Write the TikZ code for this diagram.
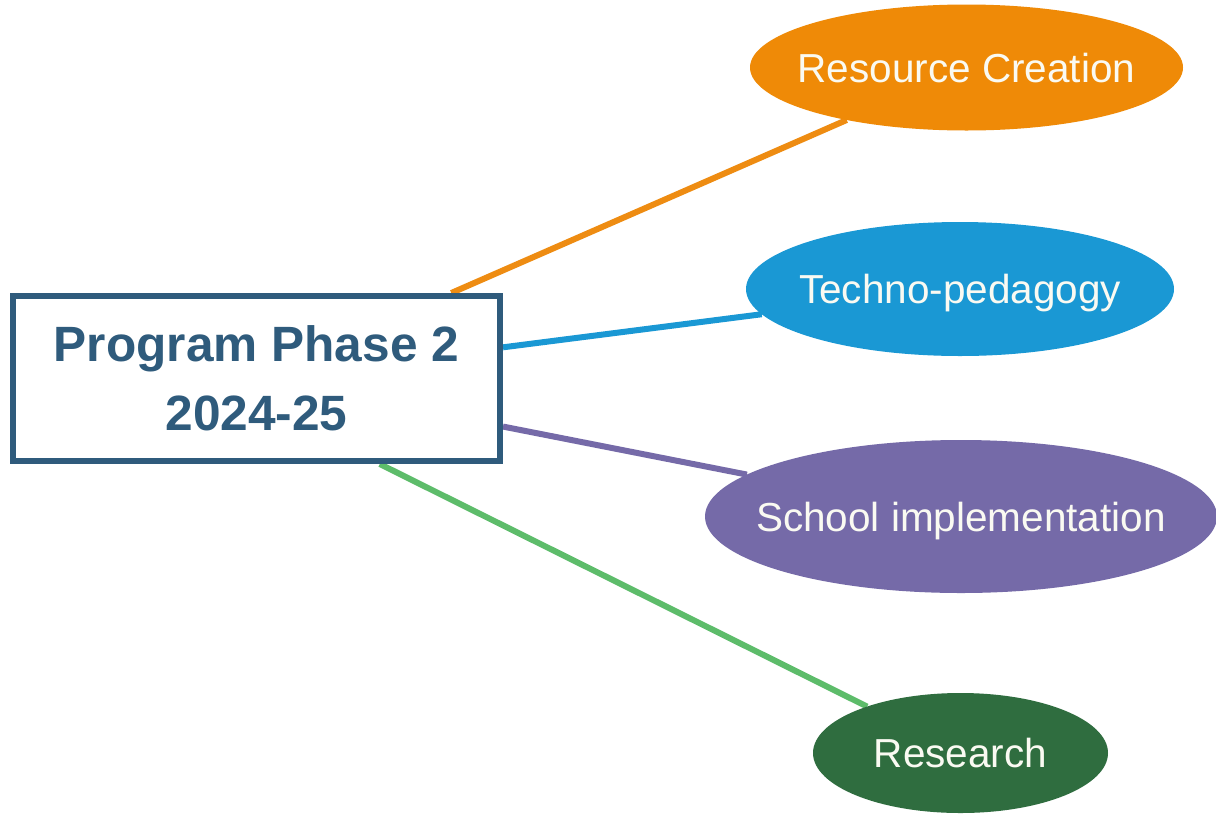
\documentclass[tikz,border=0pt]{standalone}
\usepackage{fontspec}
\setmainfont{Liberation Sans}
\usetikzlibrary{shapes.geometric,calc,backgrounds}
\definecolor{boxc}{HTML}{2F5B7C}
\definecolor{orc}{HTML}{EF8A07}
\definecolor{blc}{HTML}{1A98D4}
\definecolor{puc}{HTML}{756AA8}
\definecolor{grc}{HTML}{2F6D3F}
\definecolor{grl}{HTML}{5DBC6A}
\definecolor{orl}{HTML}{EE8C12}
\definecolor{txtc}{HTML}{FAFAF2}
\begin{document}
\begin{tikzpicture}[x=1pt,y=-1pt,
  oval/.style={ellipse, inner sep=0pt, outer sep=0pt},
  ovaltext/.style={font=\fontsize{40.5}{48}\selectfont, text=txtc, text height=29pt, text depth=0pt, inner sep=0pt},
  link/.style={line width=6pt},
  mainbox/.style={draw=boxc, line width=6pt, fill=white, minimum width=487pt, minimum height=165pt, inner sep=0pt, align=center, text=boxc, font=\fontsize{49.6}{69}\selectfont\bfseries}]
\useasboundingbox (0,0) rectangle (1216,815);
\node[mainbox] (box) at (256.5,378.5) {Program Phase 2\\2024-25};
\node[oval, fill=orc, minimum width=433pt, minimum height=126pt, label={[ovaltext]center:Resource Creation}] (rc) at (966.5,67.5) {};
\node[oval, fill=blc, minimum width=428pt, minimum height=134pt, label={[ovaltext]center:Techno-pedagogy}] (tp) at (960,289) {};
\node[oval, fill=puc, minimum width=512pt, minimum height=153pt, label={[ovaltext]center:School implementation}] (si) at (961,516.5) {};
\node[oval, fill=grc, minimum width=295pt, minimum height=120pt, label={[ovaltext]center:Research}] (rs) at (960.5,753) {};
\begin{scope}[on background layer]
  \fill[white] (0,0) rectangle (1216,815);
  \draw[link, orl] (box) -- (rc);
  \draw[link, blc] (box) -- (tp);
  \draw[link, puc] (box) -- (si);
  \coordinate (gs) at ($(box.south west)!0.75!(box.south east)$);
  \draw[link, grl] (gs) -- (rs);
\end{scope}
\end{tikzpicture}
\end{document}
